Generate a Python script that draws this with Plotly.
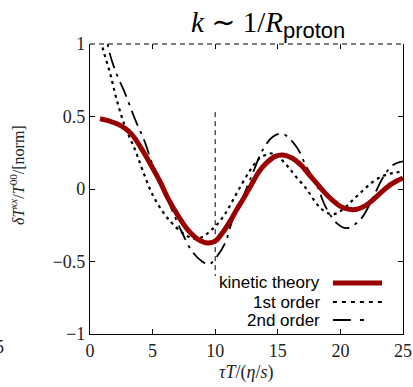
import plotly.graph_objects as go

# ---- data ----
kin_t = [0.8, 1.5, 2.5, 3.3, 4.1, 4.9, 5.6, 6.2, 7.0, 7.8, 8.6, 9.4, 10.0, 10.6, 11.2, 11.7,
         12.3, 12.8, 13.5, 14.1, 14.8, 15.4, 16.1, 16.8, 17.5, 18.1, 18.8, 19.4, 20.0, 20.7, 21.3,
         22.0, 22.6, 23.3, 24.0, 24.5, 25.0]
kin_v = [0.485, 0.47, 0.435, 0.38, 0.28, 0.16, 0.05, -0.06, -0.18, -0.28, -0.345, -0.372, -0.36,
         -0.30, -0.22, -0.145, -0.06, 0.015, 0.12, 0.18, 0.225, 0.235, 0.215, 0.17, 0.10, 0.04, -0.03,
         -0.08, -0.12, -0.14, -0.14, -0.115, -0.075, -0.02, 0.03, 0.055, 0.075]

o1_t = [0.8, 1.0, 1.6, 2.15, 2.8, 3.6, 4.2, 5.0, 6.0, 6.6, 7.5, 8.4, 9.0, 9.6, 10.1, 10.8, 11.4, 12.1,
        12.8, 13.4, 14.0, 14.5, 15.0, 15.7, 16.5, 17.3, 18.0, 18.6, 19.4, 20.2, 21.0, 21.8, 22.6,
        23.4, 24.2, 25.0]
o1_v = [1.12, 0.98, 0.80, 0.61, 0.43, 0.27, 0.13, -0.04, -0.18, -0.24, -0.31, -0.345, -0.33, -0.29,
        -0.25, -0.17, -0.08, 0.03, 0.13, 0.20, 0.235, 0.245, 0.225, 0.165, 0.08, 0.0, -0.09, -0.145,
        -0.175, -0.14, -0.075, -0.01, 0.05, 0.09, 0.11, 0.12]

o2_t = [1.2, 1.45, 2.0, 2.8, 3.6, 4.4, 4.95, 5.8, 6.55, 7.35, 8.15, 8.95, 9.5, 10.1, 10.8, 11.4, 12.2,
        13.0, 13.8, 14.6, 15.4, 16.5, 17.3, 18.1, 18.8, 19.7, 20.5, 21.6, 22.6, 23.4, 24.2, 25.0]
o2_v = [1.15, 0.98, 0.82, 0.66, 0.48, 0.32, 0.18, 0.01, -0.145, -0.30, -0.43, -0.50, -0.52, -0.47,
        -0.37, -0.21, -0.06, 0.11, 0.27, 0.36, 0.38, 0.29, 0.15, 0.03, -0.12, -0.235, -0.27, -0.21,
        -0.06, 0.08, 0.165, 0.19]

vline_t = [10, 10]
vline_v = [0.53, -0.6]

x_ticks = [0, 5, 10, 15, 20, 25]
y_ticks = [-1, -0.5, 0, 0.5, 1]
y_ticklabels = ["\u22121", "\u22120.5", "0", "0.5", "1"]

legend_names = ["kinetic theory", "1st order", "2nd order"]

RED = "#990000"
SERIF = "Liberation Serif, DejaVu Serif, serif"
SANS = "Liberation Sans, Arial, sans-serif"

fig = go.Figure()
fig.add_trace(go.Scatter(x=vline_t, y=vline_v, mode="lines",
                         line=dict(color="black", width=1, dash="5px,4px"), showlegend=False))
fig.add_trace(go.Scatter(x=o1_t, y=o1_v, mode="lines", line_shape="spline",
                         line=dict(color="black", width=2.2, dash="3px,4px"), showlegend=False))
fig.add_trace(go.Scatter(x=o2_t, y=o2_v, mode="lines", line_shape="spline",
                         line=dict(color="black", width=1.8, dash="16px,6px,3px,6px"), showlegend=False))
fig.add_trace(go.Scatter(x=kin_t, y=kin_v, mode="lines", line_shape="spline",
                         line=dict(color=RED, width=5), showlegend=False))
# dummy trace for top mirrored ticks
fig.add_trace(go.Scatter(x=[None], y=[None], xaxis="x2", showlegend=False, hoverinfo="skip"))

fig.update_layout(
    width=413, height=387,
    margin=dict(l=90, r=10, t=44, b=53, autoexpand=False),
    paper_bgcolor="white", plot_bgcolor="white",
    xaxis=dict(range=[0, 25], tickvals=x_ticks, ticktext=[str(v) for v in x_ticks],
               ticks="inside", ticklen=5, tickcolor="black", showline=True, linecolor="black",
               linewidth=1.2, showgrid=False, zeroline=False,
               tickfont=dict(family=SERIF, size=18, color="#222")),
    xaxis2=dict(range=[0, 25], overlaying="x", side="top", tickvals=x_ticks, ticks="inside",
                ticklen=5, tickcolor="black", showticklabels=False, showline=False,
                showgrid=False, zeroline=False),
    yaxis=dict(range=[-1, 1], tickvals=y_ticks, ticktext=y_ticklabels, ticks="inside",
               ticklen=5, tickcolor="black", showline=True, linecolor="black", linewidth=1.2,
               mirror="ticks", showgrid=False, zeroline=False,
               tickfont=dict(family=SERIF, size=18, color="#222")),
    showlegend=False,
)

# dashed top border
fig.add_shape(type="line", xref="paper", yref="paper", x0=0, x1=1, y0=1, y1=1,
              line=dict(color="black", width=1.2, dash="5px,4px"))

# custom legend (text left, sample right)
leg_y = [0.176, 0.110, 0.048]
leg_styles = [dict(color=RED, width=5), dict(color="black", width=2, dash="4px,5px"),
              dict(color="black", width=2, dash="18px,9px,4px,40px")]
for name, yy, st in zip(legend_names, leg_y, leg_styles):
    fig.add_annotation(x=0.741, y=yy, xref="paper", yref="paper", text=name, showarrow=False,
                       xanchor="right", yanchor="middle",
                       font=dict(family=SANS, size=17, color="black"))
    fig.add_shape(type="line", xref="paper", yref="paper", x0=0.776, x1=0.933, y0=yy, y1=yy,
                  line=st)

# title
fig.add_annotation(x=(268 - 90) / 313, y=(334 - 24) / 290, xref="paper", yref="paper",
                   text="<i>k</i> \u223c 1/<i>R</i><sub><span style='font-family:Liberation Sans;font-size:22px'>proton</span></sub>",
                   showarrow=False, xanchor="center", yanchor="middle",
                   font=dict(family=SERIF, size=29, color="black"))
# x-axis title
fig.add_annotation(x=(246 - 90) / 313, y=(334 - 372) / 290, xref="paper", yref="paper",
                   text="<i>\u03c4T</i>/(<i>\u03b7</i>/<i>s</i>)", showarrow=False,
                   xanchor="center", yanchor="middle",
                   font=dict(family=SERIF, size=18, color="#222"))
# y-axis title
fig.add_annotation(x=(17 - 90) / 313, y=(334 - 175) / 290, xref="paper", yref="paper",
                   text="<i>\u03b4T</i><sup><i>xx</i></sup>/<i>T</i><sup>00</sup>/[norm]",
                   showarrow=False, textangle=-90, xanchor="center", yanchor="middle",
                   font=dict(family=SERIF, size=16, color="#222"))
# leftover tick label from neighbouring panel
fig.add_annotation(x=(6 - 90) / 313, y=(334 - 347) / 290, xref="paper", yref="paper",
                   text="5", showarrow=False, xanchor="right", yanchor="middle",
                   font=dict(family=SERIF, size=18, color="#222"))

fig.write_html("out.html")
